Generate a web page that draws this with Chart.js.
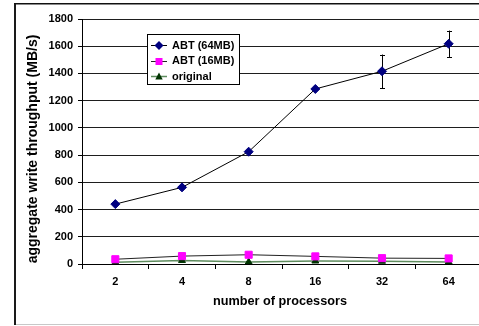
<!DOCTYPE html>
<html><head><meta charset="utf-8">
<script src="https://cdn.jsdelivr.net/npm/chart.js@4"></script>
<style>
html,body{margin:0;padding:0;background:#fff;overflow:hidden;width:479px;height:326px}
#wrap{position:absolute;left:0;top:0;width:488px;height:326px}
</style>
</head><body><div id="wrap"><canvas id="c" width="488" height="326"></canvas></div>
<script>
const categories = ['2', '4', '8', '16', '32', '64'];
const abt64 = [440, 563, 825, 1286, 1416, 1618];
const abt64Err = [0, 0, 0, 0, 123, 97];
const abt16 = [35, 58, 68, 56, 43, 41];
const original = [12, 26, 14, 22, 20, 15];
const yTicks = [0, 200, 400, 600, 800, 1000, 1200, 1400, 1600, 1800];
const seriesLabels = ['ABT (64MB)', 'ABT (16MB)', 'original'];
const xTitle = 'number of processors';
const yTitle = 'aggregate write throughput (MB/s)';

const FONT = '"Liberation Sans", Arial, sans-serif';

const framePlugin = {
  id: 'frame',
  beforeDraw(chart) {
    const ctx = chart.ctx;
    ctx.save();
    ctx.fillStyle = '#fff';
    ctx.fillRect(0, 0, chart.width, chart.height);
    ctx.fillStyle = '#1a1a1a';
    ctx.fillRect(14, 3, 2, 322);
    ctx.fillStyle = '#111';
    ctx.fillRect(14, 3, chart.width, 1);
    ctx.fillStyle = '#888';
    ctx.fillRect(16, 4, chart.width, 1);
    ctx.fillStyle = '#c8c8c8';
    ctx.fillRect(16, 324, chart.width, 1);
    ctx.restore();
  }
};

const errorBarPlugin = {
  id: 'errbars',
  beforeDatasetsDraw(chart) {
    const ctx = chart.ctx;
    const x = chart.scales.x, y = chart.scales.y;
    ctx.save();
    ctx.strokeStyle = '#000';
    ctx.lineWidth = 1;
    abt64.forEach((v, i) => {
      const e = abt64Err[i];
      if (!e) return;
      const px = Math.round(x.getPixelForValue(i)) + 0.5;
      const top = y.getPixelForValue(v + e), bot = y.getPixelForValue(v - e);
      ctx.beginPath();
      ctx.moveTo(px, top); ctx.lineTo(px, bot);
      ctx.moveTo(px - 2.5, Math.round(top) + 0.5); ctx.lineTo(px + 2.5, Math.round(top) + 0.5);
      ctx.moveTo(px - 2.5, Math.round(bot) + 0.5); ctx.lineTo(px + 2.5, Math.round(bot) + 0.5);
      ctx.stroke();
    });
    ctx.restore();
  }
};

function marker(ctx, style, color, cx, cy) {
  ctx.fillStyle = color;
  ctx.beginPath();
  if (style === 'rectRot') {
    const r = 4.5;
    ctx.moveTo(cx, cy - r); ctx.lineTo(cx + r, cy); ctx.lineTo(cx, cy + r); ctx.lineTo(cx - r, cy);
  } else if (style === 'rect') {
    ctx.rect(cx - 3.5, cy - 3.5, 7, 7);
  } else {
    ctx.moveTo(cx, cy - 4); ctx.lineTo(cx + 3.7, cy + 3); ctx.lineTo(cx - 3.7, cy + 3);
  }
  ctx.closePath();
  ctx.fill();
}

const legendPlugin = {
  id: 'boxlegend',
  afterDraw(chart) {
    const ctx = chart.ctx;
    ctx.save();
    ctx.fillStyle = '#fff';
    ctx.fillRect(147, 34, 92, 50);
    ctx.strokeStyle = '#000';
    ctx.lineWidth = 1;
    ctx.strokeRect(147.5, 34.5, 92, 50);
    chart.data.datasets.forEach((ds, i) => {
      const cy = 45 + i * 15.5;
      ctx.strokeStyle = ds.borderColor;
      ctx.lineWidth = ds.borderWidth;
      ctx.beginPath();
      ctx.moveTo(151, Math.round(cy) + 0.5); ctx.lineTo(167, Math.round(cy) + 0.5);
      ctx.stroke();
      marker(ctx, ds.pointStyle, ds.pointBackgroundColor, 159, Math.round(cy) + 0.5);
      ctx.fillStyle = '#000';
      ctx.font = 'bold 11px ' + FONT;
      ctx.textBaseline = 'middle';
      ctx.textAlign = 'left';
      ctx.fillText(ds.label, 172, cy + 0.5);
    });
    ctx.restore();
  }
};

const titlePlugin = {
  id: 'axtitles',
  afterDraw(chart) {
    const ctx = chart.ctx;
    ctx.save();
    ctx.fillStyle = '#000';
    ctx.textBaseline = 'alphabetic';
    ctx.textAlign = 'center';
    ctx.font = 'bold 12.7px ' + FONT;
    ctx.fillText(xTitle, 280, 305);
    ctx.translate(36.5, 149);
    ctx.rotate(-Math.PI / 2);
    ctx.font = 'bold 14px ' + FONT;
    ctx.fillText(yTitle, 0, 0);
    ctx.restore();
  }
};

new Chart(document.getElementById('c'), {
  type: 'line',
  data: {
    labels: categories,
    datasets: [
      { label: seriesLabels[0], data: abt64, borderColor: '#000', borderWidth: 1,
        pointStyle: 'rectRot', pointRadius: 4.5, pointBackgroundColor: '#000080',
        pointBorderColor: '#000080', pointBorderWidth: 1, tension: 0 },
      { label: seriesLabels[1], data: abt16, borderColor: '#222', borderWidth: 1,
        pointStyle: 'rect', pointRadius: 5, pointBackgroundColor: '#FF00FF',
        pointBorderColor: '#FF00FF', pointBorderWidth: 1, tension: 0 },
      { label: seriesLabels[2], data: original, borderColor: '#5E8C5E', borderWidth: 1.5,
        pointStyle: 'triangle', pointRadius: 4, pointBackgroundColor: '#003300',
        pointBorderColor: '#003300', pointBorderWidth: 1, tension: 0 }
    ]
  },
  options: {
    responsive: false,
    devicePixelRatio: 1,
    animation: false,
    events: [],
    layout: { padding: { top: 19, right: 2, left: 0, bottom: 0 } },
    plugins: { legend: { display: false }, tooltip: { enabled: false } },
    scales: {
      x: {
        type: 'category',
        offset: true,
        afterFit: s => { s.height = 62; },
        grid: { display: true, drawOnChartArea: false, drawTicks: true, tickLength: 5,
                offset: true, tickColor: '#000' },
        border: { display: true, color: '#000', width: 1 },
        ticks: { color: '#000', padding: 6, maxRotation: 0,
                 font: { family: FONT, size: 11, weight: 'bold' } }
      },
      y: {
        min: yTicks[0], max: yTicks[yTicks.length - 1],
        afterFit: s => { s.width = 82; },
        afterBuildTicks: s => { s.ticks = yTicks.map(v => ({ value: v })); },
        grid: { color: '#1e1e1e', lineWidth: 1, tickLength: 4, tickColor: '#000' },
        border: { display: true, color: '#000', width: 1 },
        ticks: { color: '#000', padding: 5, callback: v => String(v),
                 font: { family: FONT, size: 11, weight: 'bold' } }
      }
    }
  },
  plugins: [framePlugin, errorBarPlugin, legendPlugin, titlePlugin]
});
</script>
</body></html>
